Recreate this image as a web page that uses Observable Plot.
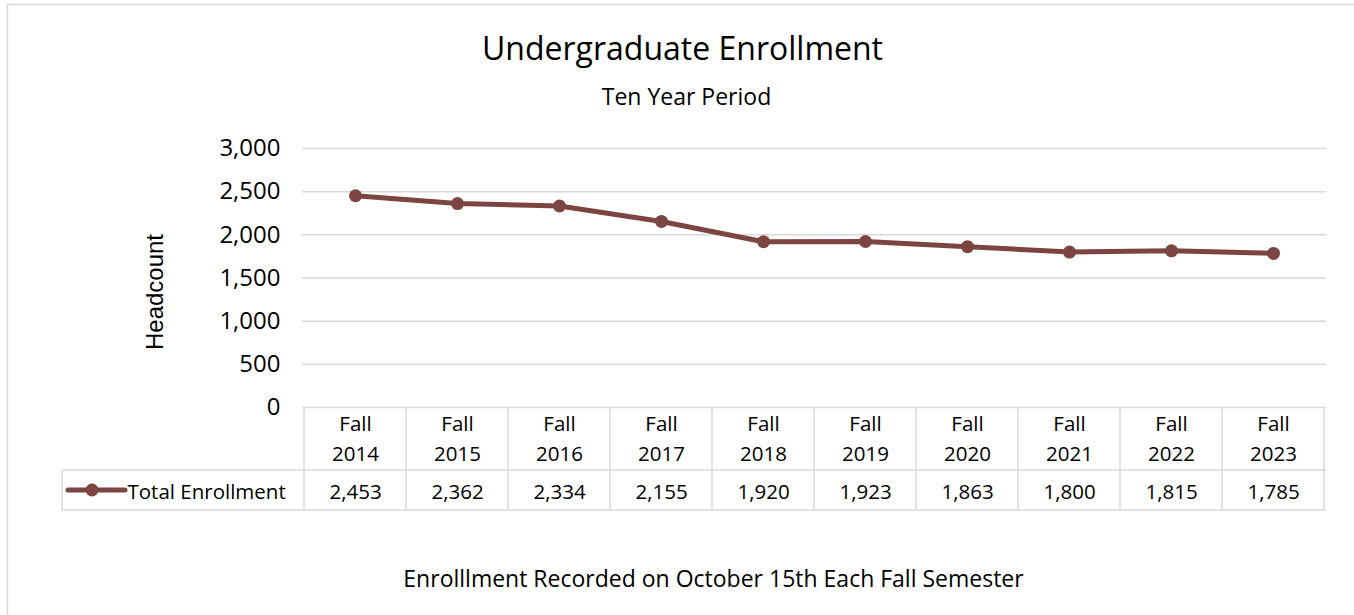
<!DOCTYPE html>
<html><head><meta charset="utf-8">
<script src="https://cdn.jsdelivr.net/npm/d3@7"></script>
<script src="https://cdn.jsdelivr.net/npm/@observablehq/plot@0.6"></script>
<style>body{margin:0;background:#fff;}</style>
</head><body><div id="chart"></div>
<script>
const categories = ["Fall 2014","Fall 2015","Fall 2016","Fall 2017","Fall 2018","Fall 2019","Fall 2020","Fall 2021","Fall 2022","Fall 2023"];
const termLabels = ["Fall\n2014","Fall\n2015","Fall\n2016","Fall\n2017","Fall\n2018","Fall\n2019","Fall\n2020","Fall\n2021","Fall\n2022","Fall\n2023"];
const enrollment = [2453, 2362, 2334, 2155, 1920, 1923, 1863, 1800, 1815, 1785];
const yTicks = [0, 500, 1000, 1500, 2000, 2500, 3000];
const seriesName = "Total Enrollment";
const titleText = "Undergraduate Enrollment";
const subtitleText = "Ten Year Period";
const captionText = "Enrolllment Recorded on October 15th Each Fall Semester";
const yLabel = "Headcount";

const data = categories.map((c, i) => ({term: c, label: termLabels[i], value: enrollment[i]}));
const lineColor = "#7d4542";
const gridColor = "#d9d9d9";
const font = "Open Sans";
const fmt = d3.format(",");

function tableGrid(index, scales, values, dims) {
  const x = scales.x;
  const bw = x.bandwidth ? x.bandwidth() : (x(categories[1]) - x(categories[0]));
  const right = dims.width - dims.marginRight;
  const top = dims.height - dims.marginBottom;
  const mid = top + 63, bottom = top + 103;
  const keyLeft = 62;
  const g = d3.create("svg:g");
  const lines = g.append("g").attr("stroke", gridColor).attr("stroke-width", 1.5).attr("fill", "none");
  const edges = categories.map(c => x(c)).concat([x(categories[categories.length - 1]) + bw]);
  for (const e of edges) lines.append("line").attr("x1", e).attr("x2", e).attr("y1", top).attr("y2", bottom);
  lines.append("line").attr("x1", keyLeft).attr("x2", right).attr("y1", mid).attr("y2", mid);
  lines.append("line").attr("x1", keyLeft).attr("x2", right).attr("y1", bottom).attr("y2", bottom);
  lines.append("line").attr("x1", keyLeft).attr("x2", keyLeft).attr("y1", mid).attr("y2", bottom);
  lines.append("path").attr("d", `M7.5,${dims.height + 5}V4.5H${dims.width + 5}`);
  // legend key
  const ky = (mid + bottom) / 2;
  g.append("line").attr("x1", 68).attr("x2", 125).attr("y1", ky).attr("y2", ky)
    .attr("stroke", lineColor).attr("stroke-width", 5).attr("stroke-linecap", "round");
  g.append("circle").attr("cx", 92).attr("cy", ky).attr("r", 6.5).attr("fill", lineColor);
  return g.node();
}

const chart = Plot.plot({
  width: 1354,
  height: 615,
  marginLeft: 302,
  marginRight: 28,
  marginTop: 148,
  marginBottom: 208,
  style: {fontFamily: font, fontSize: "18px", color: "#000", background: "#fff", overflow: "visible"},
  x: {type: "band", domain: categories, padding: 0, axis: null},
  y: {domain: [0, 3000], axis: null},
  marks: [
    Plot.ruleY(yTicks, {stroke: gridColor, strokeWidth: 1.5, strokeOpacity: 1}),
    Plot.axisY({ticks: yTicks, tickSize: 0, tickPadding: 22, tickFormat: fmt, label: null, fontSize: 24, fill: "#000"}),
    Plot.line(data, {x: "term", y: "value", stroke: lineColor, strokeWidth: 5, strokeLinejoin: "round"}),
    Plot.dot(data, {x: "term", y: "value", r: 6.5, fill: lineColor, stroke: null}),
    tableGrid,
    Plot.text(data, {x: "term", text: "label", frameAnchor: "bottom", lineAnchor: "middle", dy: 29, lineHeight: 1.47, fontSize: 20.5, fill: "#000"}),
    Plot.text(data, {x: "term", text: d => fmt(d.value), frameAnchor: "bottom", lineAnchor: "middle", dy: 84.5, fontSize: 20.5, fill: "#000"}),
    Plot.text([seriesName], {frameAnchor: "bottom-left", lineAnchor: "middle", dx: -175, dy: 84.5, textAnchor: "start", fontSize: 20.5, fill: "#000"}),
    Plot.text([titleText], {frameAnchor: "top", lineAnchor: "middle", dx: -132, dy: -99, fontSize: 32, fill: "#000"}),
    Plot.text([subtitleText], {frameAnchor: "top", lineAnchor: "middle", dx: -128, dy: -50.5, fontSize: 23, fill: "#000"}),
    Plot.text([captionText], {frameAnchor: "bottom", lineAnchor: "middle", dx: -101, dy: 172, fontSize: 23, fill: "#000"}),
    Plot.text([yLabel], {frameAnchor: "left", lineAnchor: "middle", textAnchor: "middle", dx: -147, dy: 14, rotate: -90, fontSize: 24, fontFamily: "Liberation Sans", fill: "#000"})
  ]
});
document.getElementById("chart").append(chart);
</script>
</body></html>
